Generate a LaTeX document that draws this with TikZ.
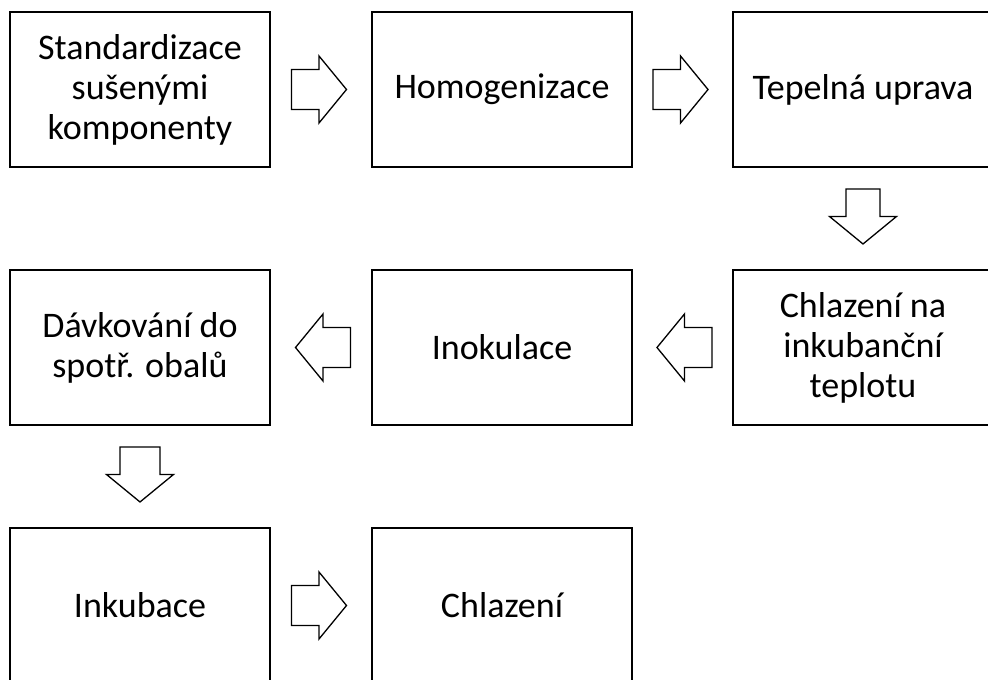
\documentclass[tikz,border=0pt]{standalone}
\usepackage{fontspec}
\setmainfont{Carlito}
\begin{document}
\begin{tikzpicture}[x=1pt,y=-1pt,
  stepbox/.style={draw=black, line width=2pt, minimum width=260pt, minimum height=155pt,
    inner sep=0pt, align=center, font=\fontsize{36}{40}\selectfont},
  arrowline/.style={draw=black, line width=1.3pt, fill=white, line join=miter},
  blockarrow/.pic={\draw[arrowline] (-27.5,-20) -- (0,-20) -- (0,-33.5) -- (27.5,0)
      -- (0,33.5) -- (0,20) -- (-27.5,20) -- cycle;},
  narrowarrow/.pic={\draw[arrowline] (-27.5,-17) -- (0,-17) -- (0,-33.5) -- (27.5,0)
      -- (0,33.5) -- (0,17) -- (-27.5,17) -- cycle;}
]
\useasboundingbox (0,0) rectangle (988,680);
\clip (0,0) rectangle (988,680);

\node[stepbox] (s1) at (140,89.5) {Standardizace\\sušenými\\komponenty};
\node[stepbox] (s2) at (502,89.5) {Homogenizace};
\node[stepbox] (s3) at (863,89.5) {Tepelná uprava};
\node[stepbox] (s4) at (863,347.5) {Chlazení na\\inkubanční\\teplotu};
\node[stepbox] (s5) at (502,347.5) {Inokulace};
\node[stepbox] (s6) at (140,347.5) {Dávkování do\\spotř. obalů};
\node[stepbox] (s7) at (140,605.5) {Inkubace};
\node[stepbox] (s8) at (502,605.5) {Chlazení};

\path (s1.east) -- (s2.west) coordinate[pos=0.48] (a12);
\path (s2.east) -- (s3.west) coordinate[pos=0.48] (a23);
\path (s3.south) -- (s4.north) coordinate[pos=0.48] (a34);
\path (s4.west) -- (s5.east) coordinate[pos=0.48] (a45);
\path (s5.west) -- (s6.east) coordinate[pos=0.48] (a56);
\path (s6.south) -- (s7.north) coordinate[pos=0.48] (a67);
\path (s7.east) -- (s8.west) coordinate[pos=0.48] (a78);

\pic at (a12) {blockarrow};
\pic at (a23) {blockarrow};
\pic[rotate=-90] at (a34) {narrowarrow};
\pic[rotate=180] at (a45) {blockarrow};
\pic[rotate=180] at (a56) {blockarrow};
\pic[rotate=-90] at (a67) {blockarrow};
\pic at (a78) {blockarrow};
\end{tikzpicture}
\end{document}
